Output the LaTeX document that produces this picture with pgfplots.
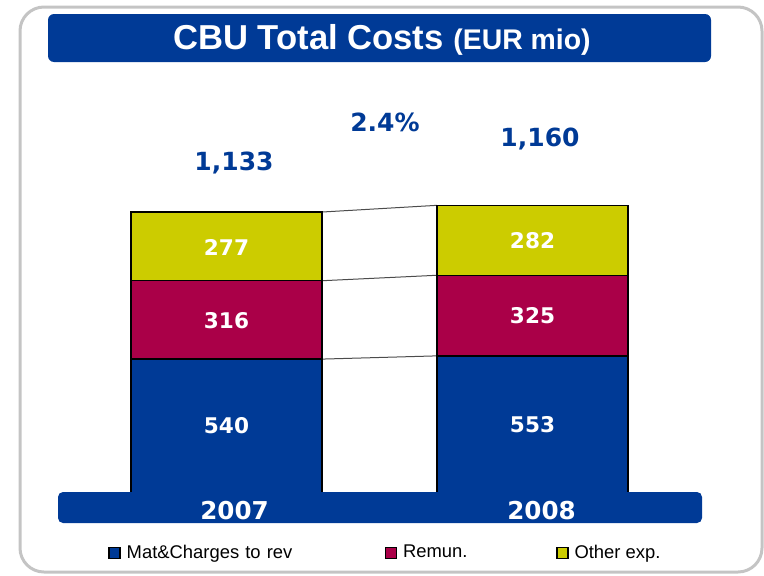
\documentclass[border=0pt]{standalone}
\usepackage{pgfplots}
\pgfplotsset{compat=1.18}
\usepackage{fontspec}
\setmainfont{Liberation Sans}
\newfontfamily\dv{DejaVu Sans}
\definecolor{cbublue}{HTML}{003A96}
\definecolor{cbured}{HTML}{AA0048}
\definecolor{cbuyel}{HTML}{CCCC00}
\definecolor{framegray}{HTML}{C4C4C4}
\tikzset{vlab/.style={text=white, font=\dv\bfseries\fontsize{10.8}{12}\selectfont}}
\pgfplotsset{sq/.style={draw=black, line width=0.75pt, area legend,
    legend image code/.code={\draw[##1,draw=black,line width=0.7pt] (0pt,-2.8pt) rectangle (5.5pt,2.8pt);}}}
\begin{document}
\begin{tikzpicture}
\useasboundingbox (0,0) rectangle (382pt,287.5pt);
\begin{scope}[x=0.5pt,y=-0.5pt,yshift=287.5pt]
  \draw[framegray, line width=1.5pt, rounded corners=12pt] (20,7) rectangle (762,572);
  \fill[cbublue, rounded corners=3pt] (48,14) rectangle (711,62);
  \node[text=white, anchor=base, inner sep=0pt] at (382,49.5)
    {\fontsize{17.3}{20}\selectfont\bfseries CBU Total Costs \fontsize{14.2}{16}\selectfont(EUR mio)};
  \begin{scope}[text=cbublue, font=\dv\bfseries\fontsize{12.5}{14}\selectfont]
    \node[anchor=base, inner sep=0pt] at (234,170) {1,133};
    \node[anchor=base, inner sep=0pt] at (540,146) {1,160};
    \node[anchor=base, inner sep=0pt] at (385,131) {2.4\%};
  \end{scope}
\end{scope}
\begin{axis}[
  at={(0,0)}, anchor=south west,
  scale only axis, width=382pt, height=287.5pt,
  xmin=0, xmax=764, ymin=-330.6, ymax=1987.9,
  hide axis, clip=false,
  ybar stacked, bar width=191,
  legend columns=3,
  legend cell align=left,
  legend style={at={(0.1418,0.0383)}, anchor=west, draw=none, fill=none,
    inner sep=0pt, outer sep=0pt,
    font=\fontsize{9.2}{11}\selectfont,
    nodes={inner sep=0pt},
    /tikz/every odd column/.style={column sep=3pt},
    /tikz/every even column/.style={column sep=0pt}},
]
\addplot[sq, fill=cbublue] coordinates {(226.5,540) (532.5,553)};
\addlegendentry[text width=129pt, align=left]{Mat\&Charges to rev}
\addplot[sq, fill=cbured] coordinates {(226.5,316) (532.5,325)};
\addlegendentry[text width=76.5pt, align=left]{Remun.}
\addplot[sq, fill=cbuyel] coordinates {(226.5,277) (532.5,282)};
\addlegendentry{Other exp.}
\draw[gray!60!black, line width=0.5pt] (axis cs:322,540) -- (axis cs:437,553);
\draw[gray!60!black, line width=0.5pt] (axis cs:322,856) -- (axis cs:437,878);
\draw[gray!60!black, line width=0.5pt] (axis cs:322,1133) -- (axis cs:437,1160);
\end{axis}
\begin{scope}[x=0.5pt,y=-0.5pt,yshift=287.5pt]
  \node[vlab] at (226.5,426) {540};
  \node[vlab] at (226.5,320.5) {316};
  \node[vlab] at (226.5,247) {277};
  \node[vlab] at (532.5,424.5) {553};
  \node[vlab] at (532.5,315.5) {325};
  \node[vlab] at (532.5,240.5) {282};
  \fill[cbublue, rounded corners=2.5pt] (58,492) rectangle (702,523);
  \begin{scope}[text=white, font=\dv\bfseries\fontsize{12.3}{14}\selectfont]
    \node[anchor=base, inner sep=0pt] at (234.5,519) {2007};
    \node[anchor=base, inner sep=0pt] at (541.5,519) {2008};
  \end{scope}
\end{scope}
\end{tikzpicture}
\end{document}
